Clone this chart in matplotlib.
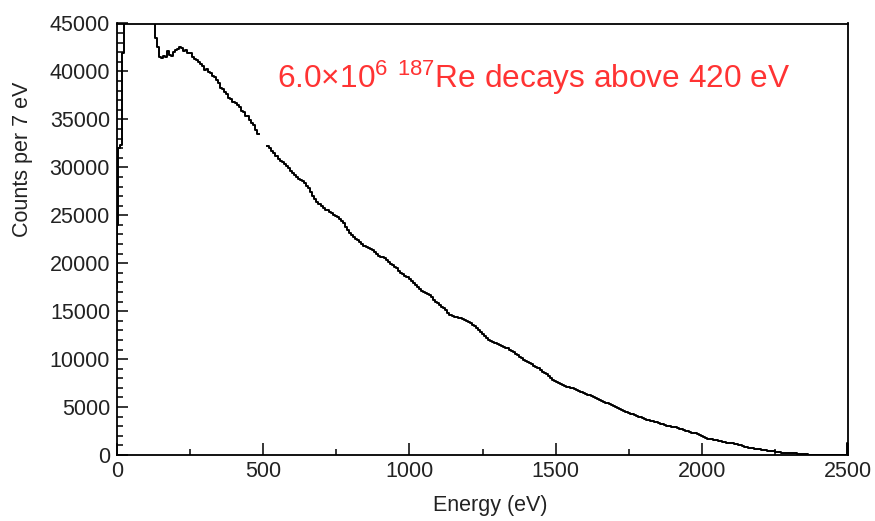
import matplotlib
matplotlib.use('agg')
import matplotlib.pyplot as plt
from matplotlib.ticker import MultipleLocator
import numpy as np

plt.rcParams['font.family'] = ['Liberation Sans', 'DejaVu Sans']
plt.rcParams['mathtext.fontset'] = 'custom'
plt.rcParams['mathtext.rm'] = 'Liberation Sans'
plt.rcParams['mathtext.it'] = 'Liberation Sans:italic'

# histogramme : canaux de 7 eV, bords a 3 + 7k eV
bin_width = 7
first_edge = 3
start_count = 17400      # debut du trait a E = 0
first_count = 24000      # petit canal [0, 3] eV
nan = np.nan
counts = [
    32000, 32300, 41900, 47000, 52000, 56000, 58000, 60000, 61000, 60500,
    59000, 57500, 56000, 54000, 52000, 50000, 48500, 47000, 43500, 42500,
    41500, 41400, 41600, 41500, 42100, 41700, 41600, 42000, 42200, 42300,
    42500, 42400, 42100, 42200, 41900, 41900, 41500, 41300, 41200, 41000,
    40800, 40600, 40200, 40300, 39900, 39800, 39500, 39400, 39150, 38800,
    38300, 38200, 37900, 37600, 37270, 37100, 36800, 36700, 36500, 36300,
    35900, 35800, 35400, 35400, 34900, 34600, 34400, 33930, 33500, nan,
    nan, nan, nan, 32250, 32000, 31700, 31500, 31200, 30900, 30700,
    30590, 30300, 30100, 29900, 29600, 29400, 29230, 29000, 28800, 28700,
    28600, 28400, 28100, 27800, 27400, 27000, 26700, 26400, 26200, 26000,
    25800, 25600, 25500, 25300, 25200, 25050, 24900, 24800, 24650, 24450,
    24200, 23800, 23490, 23200, 22900, 22700, 22500, 22400, 22240, 22000,
    21800, 21700, 21600, 21500, 21400, 21200, 21000, 20800, 20700, 20600,
    20570, 20300, 20100, 19900, 19800, 19650, 19520, 19200, 19000, 18850,
    18650, 18580, 18350, 18150, 17900, 17750, 17500, 17300, 17100, 16950,
    16850, 16800, 16700, 16450, 16200, 16000, 15800, 15600, 15400, 15350,
    15100, 14850, 14620, 14500, 14400, 14350, 14300, 14250, 14150, 14100,
    14000, 13900, 13800, 13600, 13450, 13250, 13050, 12850, 12600, 12400,
    12200, 12000, 11900, 11800, 11700, 11600, 11500, 11400, 11300, 11200,
    11170, 11000, 10850, 10700, 10550, 10400, 10230, 10100, 9950, 9800,
    9700, 9550, 9450, 9300, 9190, 9050, 8870, 8700, 8550, 8400,
    8200, 8000, 7830, 7700, 7600, 7500, 7400, 7300, 7200, 7100,
    7050, 7020, 7000, 6900, 6800, 6700, 6600, 6500, 6400, 6300,
    6260, 6150, 6050, 5950, 5850, 5750, 5650, 5550, 5450, 5400,
    5300, 5200, 5100, 5000, 4900, 4800, 4700, 4600, 4490, 4400,
    4320, 4250, 4150, 4080, 4000, 3930, 3860, 3780, 3700, 3620,
    3560, 3500, 3450, 3400, 3340, 3280, 3200, 3120, 3050, 2980,
    2930, 2900, 2870, 2820, 2760, 2700, 2620, 2540, 2460, 2400,
    2340, 2300, 2250, 2200, 2100, 2000, 1900, 1800, 1720, 1670,
    1620, 1580, 1540, 1500, 1450, 1400, 1350, 1300, 1260, 1250,
    1200, 1150, 1100, 1050, 1000, 950, 880, 820, 760, 730,
    700, 660, 620, 580, 540, 510, 480, 450, 430, 420,
    400, 350, 320, 290, 260, 230, 210, 200, 190, 180,
    170, 160, 150, 150, 140, 130, 120, 0, 0, 0,
    0, 0, 0, 0, 0, 0, 0, 0, 0, 0,
    0, 0, 0, 0, 0, 0, 1250,
]

annotation = r'6.0×10$^{6}$ $^{187}$Re decays above 420 eV'
xlabel = 'Energy (eV)'
ylabel = 'Counts per 7 eV'

edges = first_edge + bin_width * np.arange(len(counts) + 1)
x = np.r_[0, 0, edges]
y = np.r_[start_count, first_count, counts, counts[-1]]

fig = plt.figure(figsize=(8.75, 5.21), dpi=100)
ax = fig.add_axes([117 / 875, 1 - 455 / 521, (848 - 117) / 875, (455 - 23.5) / 521])

ax.step(x, y, where='post', color='black', linewidth=1.4)

ax.set_xlim(0, 2500)
ax.set_ylim(0, 45000)
ax.xaxis.set_major_locator(MultipleLocator(500))
ax.xaxis.set_minor_locator(MultipleLocator(250))
ax.yaxis.set_major_locator(MultipleLocator(5000))
ax.yaxis.set_minor_locator(MultipleLocator(1000))

ax.tick_params(which='both', direction='in', top=False, right=False,
               width=1.1, colors='black', labelcolor='#222222', labelsize=15.5)
ax.tick_params(axis='x', which='major', length=8.3, pad=4)
ax.tick_params(axis='x', which='minor', length=4.3)
ax.tick_params(axis='y', which='major', length=7.7, pad=5)
ax.tick_params(axis='y', which='minor', length=4.3)
for s in ax.spines.values():
    s.set_linewidth(1.3)

ax.set_xlabel(xlabel, fontsize=15.5, color='#222222')
ax.xaxis.set_label_coords(0.51, -0.093)
ax.set_ylabel(ylabel, fontsize=15.5, color='#222222')
ax.yaxis.set_label_coords(-0.115, 0.685)

ax.text(277 / 875, 1 - 88 / 521, annotation, transform=fig.transFigure,
        color='#ff3333', fontsize=22.8, ha='left', va='baseline')

fig.savefig('out.png', dpi=100)
